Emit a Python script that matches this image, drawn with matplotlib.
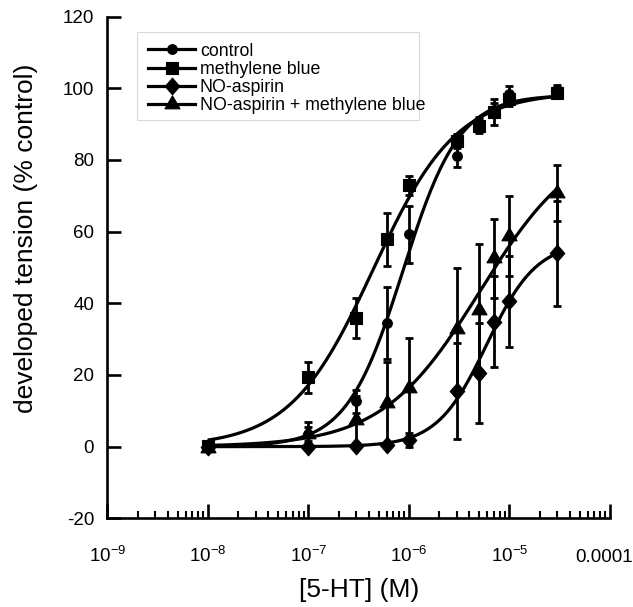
import numpy as np
import matplotlib
matplotlib.use("Agg")
import matplotlib.pyplot as plt
from matplotlib.lines import Line2D
from matplotlib.patches import Rectangle
from matplotlib.path import Path
from matplotlib.transforms import ScaledTranslation
from matplotlib.ticker import FixedLocator, LogLocator, NullLocator

plt.rcParams['font.family'] = ['Liberation Sans', 'DejaVu Sans']
plt.rcParams['mathtext.fontset'] = 'custom'
plt.rcParams['mathtext.rm'] = 'Liberation Sans'
plt.rcParams['mathtext.it'] = 'Liberation Sans:italic'
plt.rcParams['mathtext.bf'] = 'Liberation Sans:bold'

# ---------------- data ----------------
conc = [1e-8, 1e-7, 3e-7, 6e-7, 1e-6, 3e-6, 5e-6, 7e-6, 1e-5, 3e-5]

control = [0.0, 3.5, 12.6, 34.5, 59.2, 81.1, 90.0, 94.0, 98.3, 99.5]
control_err = [0.3, 2.0, 3.3, 10.0, 7.9, 3.0, 2.0, 2.0, 2.3, 1.5]

mblue = [0.3, 19.3, 35.9, 57.8, 72.9, 85.3, 89.4, 93.4, 97.0, 98.7]
mblue_err = [0.5, 4.4, 5.5, 7.3, 2.6, 2.0, 1.9, 3.6, 2.0, 1.5]

noasp = [0.0, 0.0, 0.2, 0.5, 1.9, 15.5, 20.5, 34.9, 40.5, 53.9]
noasp_err = [0.0, 0.3, 0.5, 0.5, 2.0, 13.5, 14.0, 12.6, 12.6, 14.6]

noasp_mb = [-0.3, 3.5, 7.5, 12.1, 16.3, 32.8, 38.2, 52.6, 58.7, 70.8]
noasp_mb_err = [0.3, 3.5, 6.5, 11.5, 14.0, 17.1, 18.2, 11.0, 11.2, 7.9]

labels = ['control', 'methylene blue', 'NO-aspirin', 'NO-aspirin + methylene blue']
xtick_vals = [1e-9, 1e-8, 1e-7, 1e-6, 1e-5, 1e-4]
xtick_labels = [r'$\mathregular{10^{-9}}$', r'$\mathregular{10^{-8}}$', r'$\mathregular{10^{-7}}$',
                r'$\mathregular{10^{-6}}$', r'$\mathregular{10^{-5}}$', '0.0001']
ytick_vals = [-20, 0, 20, 40, 60, 80, 100, 120]


def hill_fit(x, y):
    lx = np.log10(np.asarray(x))
    y = np.asarray(y)
    logec = np.arange(-8.0, -3.0, 0.005)[:, None, None]
    nn = np.arange(0.4, 3.0, 0.01)[None, :, None]
    f = 1.0 / (1.0 + 10 ** (nn * (logec - lx[None, None, :])))
    emax = (f * y).sum(-1) / (f * f).sum(-1)
    res = ((emax[..., None] * f - y) ** 2).sum(-1)
    i, j = np.unravel_index(np.argmin(res), res.shape)
    return logec[i, 0, 0], nn[0, j, 0], emax[i, j]


def hill(x, logec, n, emax):
    return emax / (1.0 + 10 ** (n * (logec - np.log10(x))))


# markers
tri = Path([(-1, -0.577), (1, -0.577), (0, 1.155), (-1, -0.577)],
           [Path.MOVETO, Path.LINETO, Path.LINETO, Path.CLOSEPOLY])
dia = Path([(0, 1.15), (1, 0), (0, -1.15), (-1, 0), (0, 1.15)],
           [Path.MOVETO, Path.LINETO, Path.LINETO, Path.LINETO, Path.CLOSEPOLY])

series = [
    (control, control_err, 'o', 7.0),
    (mblue, mblue_err, 's', 8.5),
    (noasp, noasp_err, dia, 12.0),
    (noasp_mb, noasp_mb_err, tri, 12.5),
]

fig = plt.figure(figsize=(6.33, 6.07), dpi=100)
ax = fig.add_axes([0.1695, 0.1461, 0.7942, 0.8267])

xfit = np.logspace(-8, np.log10(3e-5), 400)
for vals, errs, mk, ms in series:
    p = hill_fit(conc, vals)
    ax.plot(xfit, hill(xfit, *p), color='k', lw=2.3, zorder=2, solid_capstyle='butt')
    ax.errorbar(conc, vals, yerr=errs, fmt='none', ecolor='k', elinewidth=2.0,
                capsize=3.0, capthick=2.0, zorder=3)
    ax.plot(conc, vals, linestyle='none', marker=mk, ms=ms, mfc='k', mec='k',
            mew=0.8, zorder=4)

ax.set_xscale('log')
ax.set_xlim(1e-9, 1e-4)
ax.set_ylim(-20, 120)

for s in ['top', 'right']:
    ax.spines[s].set_visible(False)
for s in ['left', 'bottom']:
    ax.spines[s].set_linewidth(1.9)

ax.xaxis.set_major_locator(FixedLocator(xtick_vals))
ax.xaxis.set_minor_locator(LogLocator(base=10, subs=np.arange(2, 10)))
ax.set_xticklabels(xtick_labels, va='baseline')
ax.set_yticks(ytick_vals)
ax.set_yticklabels([str(v) for v in ytick_vals])
ax.yaxis.set_minor_locator(NullLocator())

ax.tick_params(axis='both', which='major', direction='in', length=10, width=1.9,
               labelsize=13.5, color='k')
ax.tick_params(axis='x', which='minor', direction='in', length=5, width=1.5)
ax.tick_params(axis='y', which='major', pad=9.5)
ax.tick_params(axis='x', which='major', pad=31.5)

# keep the last x tick label inside the figure, as in the reference
last = ax.xaxis.get_major_ticks()[-1].label1
last.set_transform(last.get_transform() + ScaledTranslation(-6 / 100, 0, fig.dpi_scale_trans))

ax.set_ylabel('developed tension (% control)', fontsize=19)
ax.yaxis.set_label_coords(-0.137, 0.5586)
ax.set_xlabel('[5-HT] (M)', fontsize=19)
ax.xaxis.set_label_coords(0.5, -0.118)

# legend
handles = []
for (vals, errs, mk, ms), lab in zip(series, labels):
    handles.append(Line2D([0], [0], color='k', lw=2.3, marker=mk, ms=ms,
                          mfc='k', mec='k', mew=0.8))
leg = fig.legend(handles, labels, loc='upper left',
                 bbox_to_anchor=(148 / 633, (607 - 42.5) / 607),
                 frameon=False, fontsize=12.8, borderpad=0, borderaxespad=0,
                 handlelength=2.65, handletextpad=0.27, labelspacing=0.07,
                 numpoints=1)
fig.patches.append(Rectangle((137 / 633, (607 - 120) / 607), 282 / 633, 88 / 607,
                             transform=fig.transFigure, fill=False,
                             edgecolor='#d9d9d9', lw=0.8, zorder=5))

fig.savefig('out.png', dpi=100)
